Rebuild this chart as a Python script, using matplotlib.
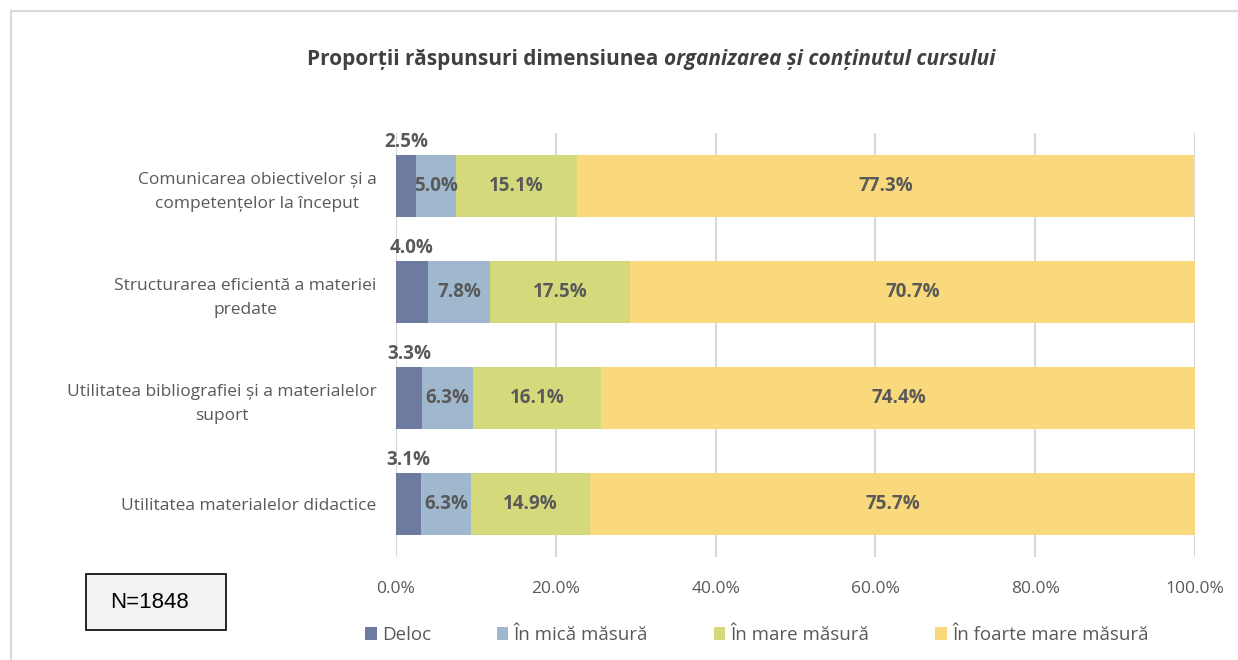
import matplotlib.pyplot as plt
from matplotlib.patches import Rectangle
from matplotlib.lines import Line2D

categories = [
    "Comunicarea obiectivelor și a\ncompetențelor la început",
    "Structurarea eficientă a materiei\npredate",
    "Utilitatea bibliografiei și a materialelor\nsuport",
    "Utilitatea materialelor didactice",
]
series_names = ["Deloc", "În mică măsură", "În mare măsură", "În foarte mare măsură"]
deloc = [2.5, 4.0, 3.3, 3.1]
mica = [5.0, 7.8, 6.3, 6.3]
mare = [15.1, 17.5, 16.1, 14.9]
foarte_mare = [77.3, 70.7, 74.4, 75.7]
colors = ["#6F7AA0", "#A0B8CE", "#D4DA7C", "#F9D97B"]

plt.rcParams["font.family"] = ["Open Sans", "DejaVu Sans"]
txt = "#595959"

fig = plt.figure(figsize=(12.38, 6.6), dpi=100)
ax = fig.add_axes([396 / 1238, 1 - 557 / 660, (1195 - 396) / 1238, 424 / 660])

ypos = list(range(len(categories)))
left = [0.0] * len(categories)
bars = []
for vals, name, col in zip([deloc, mica, mare, foarte_mare], series_names, colors):
    b = ax.barh(ypos, vals, left=left, height=0.585, color=col, label=name, zorder=2)
    bars.append(b)
    for i, v in enumerate(vals):
        cx = left[i] + v / 2
        if name == "Deloc":
            ax.text(cx, i - 0.585 / 2 - 0.03, f"{v:.1f}%", ha="center", va="bottom",
                    fontsize=13.5, fontweight="bold", color=txt, zorder=3)
        else:
            ax.text(cx, i, f"{v:.1f}%", ha="center", va="center",
                    fontsize=13.5, fontweight="bold", color=txt, zorder=3)
    left = [l + v for l, v in zip(left, vals)]

ax.set_xlim(0, 100)
ax.set_ylim(len(categories) - 0.5, -0.5)
ax.set_yticks(ypos)
ax.set_yticklabels(categories, fontsize=12.5, color=txt, multialignment="center",
                   linespacing=1.65)
ax.set_xticks([0, 20, 40, 60, 80, 100])
ax.set_xticklabels([f"{t:.1f}%" for t in [0, 20, 40, 60, 80, 100]], fontsize=12.5, color=txt)
ax.tick_params(axis="y", length=0, pad=14)
ax.tick_params(axis="x", length=0, pad=17)
ax.grid(axis="x", color="#D9D9D9", linewidth=1.5, zorder=0)
for s in ax.spines.values():
    s.set_visible(False)

# title: bold part followed by italic part
t1 = fig.text(307 / 1238, 1 - 60 / 660, "Proporții răspunsuri dimensiunea ",
              fontsize=15, fontweight="bold", color="#404040", va="center", ha="left")
fig.canvas.draw()
bb = t1.get_window_extent()
fig.text(bb.x1 / fig.bbox.width, 1 - 60 / 660, "organizarea și conținutul cursului",
         fontsize=15, fontweight="bold", style="italic", color="#404040", va="center", ha="left")

fig.legend(handles=[b for b in bars], labels=series_names, loc="center",
           bbox_to_anchor=(757 / 1238, 1 - 635 / 660), ncol=4, frameon=False,
           fontsize=13.5, labelcolor=txt, handlelength=0.6, handleheight=0.7,
           handletextpad=0.3, columnspacing=3.5)

# N box
fig.patches.append(Rectangle((86 / 1238, 1 - 630 / 660), 140 / 1238, 56 / 660,
                             transform=fig.transFigure, facecolor="#F2F2F2",
                             edgecolor="black", linewidth=1.2))
fig.text(150 / 1238, 1 - 603 / 660, "N=1848", fontsize=16, ha="center", va="center", color="black",
         family=["Liberation Sans", "DejaVu Sans"])

# outer chart border (top and left visible)
fig.add_artist(Line2D([11 / 1238, 1], [1 - 11 / 660, 1 - 11 / 660], transform=fig.transFigure,
                      color="#D9D9D9", linewidth=1.5))
fig.add_artist(Line2D([11 / 1238, 11 / 1238], [0, 1 - 11 / 660], transform=fig.transFigure,
                      color="#D9D9D9", linewidth=1.5))

fig.savefig("out.png", dpi=100)
